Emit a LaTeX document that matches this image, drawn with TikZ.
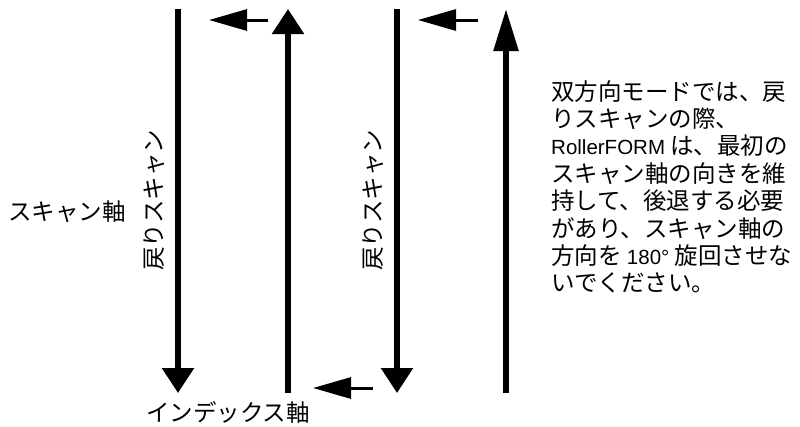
\documentclass[tikz,border=0pt]{standalone}
\usepackage{fontspec}
\setmainfont{Noto Sans CJK JP}
\newfontfamily\latinfont{Liberation Sans}
\usetikzlibrary{arrows.meta}
\begin{document}
\begin{tikzpicture}[x=1pt,y=-1pt,
  axisline/.style={line width=5.5pt},
  bighead/.style={-{Triangle[length=25pt,width=31pt]}},
  tallhead/.style={-{Triangle[length=42pt,width=24pt]}},
  stepline/.style={line width=3pt,-{Triangle[length=38pt,width=21pt]}},
  lbl/.style={inner sep=0pt,font=\fontsize{23.5}{27}\selectfont}]
\useasboundingbox (0,0) rectangle (800,426);
% coordinates
\coordinate (l1t) at (178,9);   \coordinate (l1b) at (178,393);
\coordinate (l2t) at (288,9);   \coordinate (l2b) at (288,393);
\coordinate (l3t) at (397,9);   \coordinate (l3b) at (397,393);
\coordinate (l4t) at (506,9);   \coordinate (l4b) at (506,393);
\coordinate (s1a) at (268,20);  \coordinate (s1b) at (209,20);
\coordinate (s2a) at (478,20);  \coordinate (s2b) at (418,20);
\coordinate (s3a) at (373,388); \coordinate (s3b) at (313,388);
% main scan lines
\draw[axisline,bighead] (l1t) -- (l1b);
\draw[axisline,bighead] (l2b) -- (l2t);
\draw[axisline,bighead] (l3t) -- (l3b);
\draw[axisline,tallhead] (l4b) -- (l4t);
% index steps
\draw[stepline] (s1a) -- (s1b);
\draw[stepline] (s2a) -- (s2b);
\draw[stepline] (s3a) -- (s3b);
% labels
\node[lbl] (scan) at (67,212) {スキャン軸};
\node[lbl] (index) at (228,412) {インデックス軸};
\node[lbl,rotate=90] (ret1) at (154,200) {戻りスキャン};
\node[lbl,rotate=90] (ret2) at (373,200) {戻りスキャン};
\node[lbl,anchor=north west,align=left,
      font=\fontsize{23.5}{27.4}\selectfont] (note) at (551,80)
  {双方向モードでは、戻\\
   りスキャンの際、\\
   {\latinfont\fontsize{20.5}{27.4}\selectfont RollerFORM} は、最初の\\
   スキャン軸の向きを維\\
   持して、後退する必要\\
   があり、スキャン軸の\\
   方向を {\latinfont\fontsize{20.5}{27.4}\selectfont 180°} 旋回させな\\
   いでください。};
\end{tikzpicture}
\end{document}
